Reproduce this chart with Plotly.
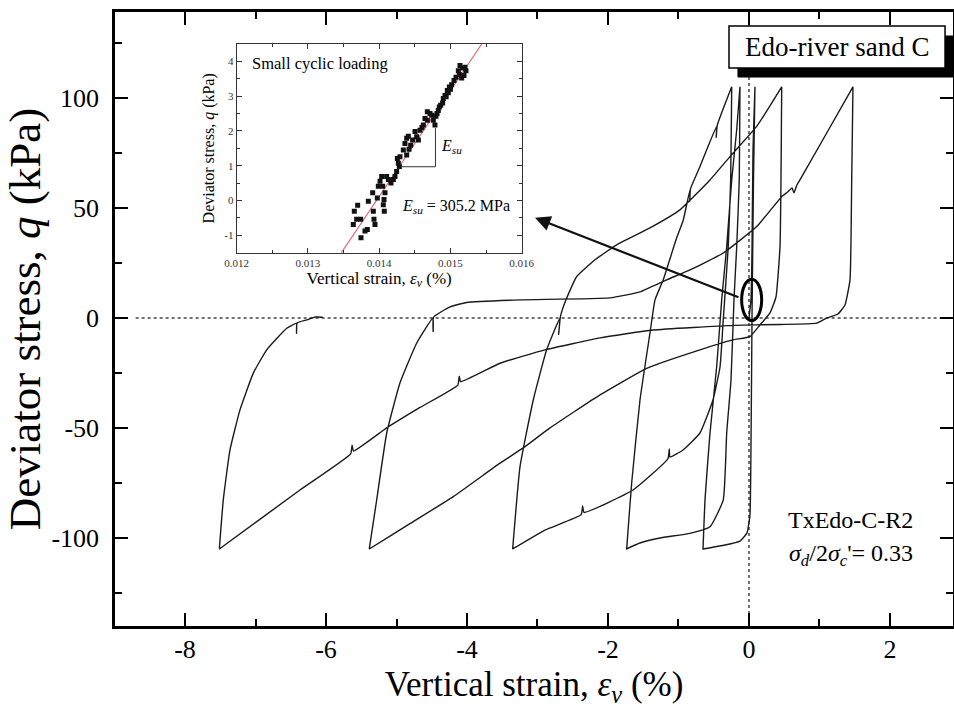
import plotly.graph_objects as go

# ---------------- main hysteresis data (strain %, deviator stress kPa) ----------------
load0_e = [0.0, 0.028, 0.043, 0.057, 0.085]
load0_q = [0.0, 8.2, 30.9, 76.4, 105]

unload1_e = [0.085, 0.064, 0.043, 0.028, 0.014, -0.028, -0.128, -0.34, -0.652]
unload1_q = [105, 62.7, 0.0, -60, -89.5, -97.7, -101.4, -103.2, -105]

reload1_e = [-0.652, -0.624, -0.553, -0.458, -0.387, -0.316, -0.245, -0.174, -0.128]
reload1_q = [-105, -82.7, -52.3, -22.1, 8.2, 32.4, 62.7, 85.5, 105]

unload2_e = [-0.128, -0.138, -0.174, -0.213, -0.255, -0.316, -0.365, -0.553, -0.837, -1.262, -1.546, -1.735]
unload2_q = [105, 62.7, 32.4, 8.2, -28.2, -52.3, -82.7, -94.9, -97.9, -100, -102.3, -105]

reload2_e = [-1.735, -1.664, -1.546, -1.404, -1.333, -1.216, -1.035, -0.932, -0.837, -0.84, -0.83,
             -0.695, -0.46, -0.465, -0.45, -0.245]
reload2_q = [-105, -75, -37.3, -6.8, 8.2, 17.3, 35.5, 44.5, 58.2, 53, 58.6, 68.8, 87, 82, 87.5, 105]

unload3_e = [-0.245, -0.26, -0.294, -0.365, -0.411, -0.511, -0.695, -0.936, -1.121, -1.13, -1.15,
             -1.645, -2.34, -2.36, -2.38, -2.894, -3.352]
unload3_q = [105, 62.7, 32.4, -0.9, -22.3, -37.3, -52.3, -60, -63.2, -59.5, -64, -78.2, -88.4, -85.5, -89.4,
             -96.4, -105]

reload3_e = [-3.352, -3.248, -3.06, -2.87, -2.681, -2.70, -2.675, -2.596, -2.444, -2.184, -1.877, -1.404,
             -0.979, -0.553, -0.27, 0.109, 0.464]
reload3_q = [-105, -67.6, -37.3, -14.5, 0, -7.5, 0.5, 8.2, 18.8, 26.4, 33.2, 40.9, 49.1, 62.7, 73.3, 87, 105]

unload4_e = [0.464, 0.454, 0.44, 0.383, 0.298, 0.156, 0.014, -0.227, -0.695, -1.451, -2.113, -2.823,
             -3.177, -3.532, -4.194, -4.809, -5.386]
unload4_q = [105, 62.7, 32.3, 9.5, 2.3, -3.2, -8.5, -10, -14.5, -22.9, -35, -50, -58.5, -66, -81.2, -93.5, -105]

reload4_e = [-5.386, -5.281, -5.139, -4.95, -4.713, -4.482, -4.48, -4.475, -4.241, -4.004, -3.248, -1.972,
             -1.546, -1.167, -0.837, -0.365, 0.109, 0.464, 0.553, 0.61, 0.638, 0.681, 0.723, 1.475]
reload4_q = [-105, -82.7, -52.3, -29.5, -11.4, 0, -6.2, 0.3, 5, 7, 8.2, 9.1, 11.8, 17.3, 21.8, 29.5, 41.5,
             55.1, 57.3, 59.1, 56.8, 60.5, 62.7, 105]

unload5_e = [1.475, 1.457, 1.433, 1.362, 1.262, 1.102, 0.96, 0.44, -0.227, -1.362, -2.113, -2.894, -3.532,
             -4.09, -4.11, -4.13, -4.667, -5.139, -5.61, -5.63, -5.65, -6.369, -7.513]
unload5_q = [105, 62.7, 17.3, 5.9, 1.8, -0.1, -2.4, -3, -3.4, -5.5, -9.1, -14.5, -20.6, -29, -26.5, -30.5,
             -40.7, -50, -60.5, -57.8, -61.8, -78.2, -105]

reload5_e = [-7.513, -7.457, -7.362, -7.22, -7.031, -6.841, -6.557, -6.42, -6.418, -6.41, -6.274, -6.15, -6.047]
reload5_q = [-105, -82.7, -60, -41.8, -25.1, -14.5, -4.7, -2.5, -7.0, -2.3, -0.9, 0.4, 0.3]

branches_e = [load0_e, unload1_e, reload1_e, unload2_e, reload2_e, unload3_e, reload3_e,
              unload4_e, reload4_e, unload5_e, reload5_e]
branches_q = [load0_q, unload1_q, reload1_q, unload2_q, reload2_q, unload3_q, reload3_q,
              unload4_q, reload4_q, unload5_q, reload5_q]

# ---------------- inset: small cyclic loading ----------------
small_e = [0.013637, 0.013651, 0.013698, 0.013684, 0.013740, 0.013745, 0.013801, 0.013834, 0.013848,
           0.013909, 0.013918, 0.013927, 0.013941, 0.013974, 0.013988, 0.014012, 0.014035, 0.014049,
           0.014068, 0.014082, 0.014058, 0.014072, 0.014105, 0.014129, 0.014166, 0.014199, 0.014245,
           0.014269, 0.014292, 0.014255, 0.014283, 0.014339, 0.014362, 0.014386, 0.014409, 0.014386,
           0.014419, 0.014442, 0.014470, 0.014503, 0.014573, 0.014620, 0.014643, 0.014676, 0.014713,
           0.014760, 0.014783, 0.014797, 0.014830, 0.014863, 0.014900, 0.014924, 0.014956, 0.014985,
           0.015017, 0.015050, 0.015078, 0.015111, 0.015134, 0.015172, 0.015204, 0.015125, 0.015158,
           0.015190, 0.015218, 0.014676, 0.014737, 0.014844, 0.014526, 0.014550, 0.014222, 0.014890,
           0.014940, 0.014970, 0.015000, 0.014812, 0.014600]
small_q = [-0.69, -0.31, -0.14, -0.54, -0.54, -1.07, -0.88, -0.83, -0.02,
           0.22, -0.31, -0.54, -0.69, 0.07, 0.41, 0.55, 0.69, 0.41,
           0.03, 0.22, -0.12, -0.31, 0.69, 0.60, 0.50, 0.60, 0.83,
           1.07, 1.26, 1.21, 0.98, 1.45, 1.64, 1.79, 1.85, 1.31,
           1.47, 1.59, 1.74, 1.98, 2.02, 2.17, 2.36, 2.31, 2.50,
           2.31, 2.17, 2.42, 2.59, 2.74, 2.93, 3.02, 3.16, 3.26,
           3.33, 3.45, 3.54, 3.73, 3.88, 3.81, 3.83, 3.62, 3.52,
           3.59, 3.73, 2.55, 2.45, 2.69, 1.83, 1.74, 0.69, 2.80,
           2.98, 3.10, 3.20, 2.50, 2.10]

fit_e = [0.01347, 0.01544]
fit_q = [-1.5, 4.5]

tri_e = [0.01432, 0.01479, 0.01479]
tri_q = [0.97, 0.97, 2.08]

x_ticks = [-8, -6, -4, -2, 0, 2]
x_labels = ["-8", "-6", "-4", "-2", "0", "2"]
y_ticks = [-100, -50, 0, 50, 100]
y_labels = ["-100", "-50", "0", "50", "100"]
ix_ticks = [0.012, 0.013, 0.014, 0.015, 0.016]
ix_labels = ["0.012", "0.013", "0.014", "0.015", "0.016"]
iy_ticks = [-1, 0, 1, 2, 3, 4]
iy_labels = ["-1", "0", "1", "2", "3", "4"]

FONT = "Liberation Serif, Times New Roman, serif"

all_e, all_q = [], []
for be, bq in zip(branches_e, branches_q):
    all_e += be
    all_q += bq

fig = go.Figure()
fig.add_trace(go.Scatter(x=all_e, y=all_q, mode="lines",
                         line=dict(color="#1a1a1a", width=1.4, shape="spline", smoothing=0.4),
                         showlegend=False, hoverinfo="skip"))

# inset traces
fig.add_trace(go.Scatter(x=fit_e, y=fit_q, mode="lines", line=dict(color="#e0707a", width=1.2),
                         xaxis="x2", yaxis="y2", showlegend=False, hoverinfo="skip"))
fig.add_trace(go.Scatter(x=small_e, y=small_q, mode="markers",
                         marker=dict(color="#111111", size=5, symbol="square"),
                         xaxis="x2", yaxis="y2", showlegend=False, hoverinfo="skip"))
fig.add_trace(go.Scatter(x=tri_e, y=tri_q, mode="lines", line=dict(color="#333333", width=1),
                         xaxis="x2", yaxis="y2", showlegend=False, hoverinfo="skip"))

axis_common = dict(showline=True, linecolor="black", mirror="allticks", showgrid=False, zeroline=False,
                   ticks="inside", automargin=False)

fig.update_layout(
    width=954, height=717, autosize=False, showlegend=False,
    margin=dict(l=115, r=1, t=12, b=91, pad=0),
    paper_bgcolor="white", plot_bgcolor="white",
    font=dict(family=FONT, color="black"),
    xaxis=dict(range=[-8.993, 2.894], tickvals=x_ticks, ticktext=x_labels, linewidth=2.5,
               ticklen=13, tickwidth=2, tickcolor="black",
               minor=dict(ticks="inside", dtick=1, ticklen=7, tickwidth=2, tickcolor="black"),
               tickfont=dict(size=26), ticklabelstandoff=-2,
               title=dict(text="Vertical strain, <i>ε<sub>v</sub></i> (%)", font=dict(size=35), standoff=9),
               **axis_common),
    yaxis=dict(range=[-140, 139], tickvals=y_ticks, ticktext=y_labels, linewidth=2.5,
               ticklen=13, tickwidth=2, tickcolor="black",
               minor=dict(ticks="inside", dtick=25, ticklen=7, tickwidth=2, tickcolor="black"),
               tickfont=dict(size=26), ticklabelstandoff=8,
               title=dict(text="Deviator stress, <i>q</i> (kPa)", font=dict(size=45), standoff=2),
               **axis_common),
    xaxis2=dict(domain=[0.1452, 0.4853], anchor="y2", range=[0.012, 0.016], tickvals=ix_ticks,
                ticktext=ix_labels, linewidth=1, ticklen=5, tickwidth=1, tickcolor="#333",
                minor=dict(ticks="inside", dtick=0.0005, ticklen=3, tickwidth=1, tickcolor="#333"),
                tickfont=dict(size=11, color="#333"),
                title=dict(text="Vertical strain, <i>ε<sub>v</sub></i> (%)", font=dict(size=17), standoff=3),
                linecolor="#333", showline=True, mirror="allticks", showgrid=False, zeroline=False,
                ticks="inside", automargin=False),
    yaxis2=dict(domain=[0.608, 0.948], anchor="x2", range=[-1.5, 4.5], tickvals=iy_ticks,
                ticktext=iy_labels, linewidth=1, ticklen=5, tickwidth=1, tickcolor="#333",
                minor=dict(ticks="inside", dtick=0.5, ticklen=3, tickwidth=1, tickcolor="#333"),
                tickfont=dict(size=11, color="#333"),
                title=dict(text="Deviator stress, <i>q</i> (kPa)", font=dict(size=16), standoff=5),
                linecolor="#333", showline=True, mirror="allticks", showgrid=False, zeroline=False,
                ticks="inside", automargin=False),
)

# reference dotted lines through the origin
fig.add_shape(type="line", xref="x", yref="y", x0=-8.7, x1=2.894, y0=0, y1=0,
              line=dict(color="#444", width=1.5, dash="dot"), layer="below")
fig.add_shape(type="line", xref="x", yref="y", x0=0, x1=0, y0=-140, y1=139,
              line=dict(color="#444", width=1.5, dash="dot"), layer="below")

# ellipse marking small cyclic loading
fig.add_shape(type="circle", xref="x", yref="y", x0=-0.104, x1=0.18, y0=-1.2, y1=17.6,
              line=dict(color="black", width=3))

# arrow from ellipse to inset
fig.add_annotation(x=-3.035, y=45.5, ax=-0.128, ay=9.1, xref="x", yref="y", axref="x", ayref="y",
                   text="", showarrow=True, arrowhead=2, arrowsize=1.4, arrowwidth=2.2, arrowcolor="#111")

# Edo-river sand C label with shadow
fig.add_shape(type="rect", xref="paper", yref="paper", x0=0.7434, x1=1.002, y0=0.8941, y1=0.9609,
              fillcolor="black", line=dict(color="black", width=1))
fig.add_shape(type="rect", xref="paper", yref="paper", x0=0.7327, x1=0.9905, y0=0.9088, y1=0.9772,
              fillcolor="white", line=dict(color="black", width=1.5))
fig.add_annotation(x=0.8616, y=0.943, xref="paper", yref="paper", text="Edo-river sand C",
                   xanchor="center", yanchor="middle", showarrow=False, font=dict(size=27))

fig.add_annotation(x=0.878, y=0.1726, xref="paper", yref="paper", text="TxEdo-C-R2",
                   xanchor="center", yanchor="middle", showarrow=False, font=dict(size=24))
fig.add_annotation(x=0.878, y=0.1156, xref="paper", yref="paper",
                   text="<i>σ<sub>d</sub></i>/2<i>σ<sub>c</sub></i>'= 0.33",
                   xanchor="center", yanchor="middle", showarrow=False, font=dict(size=24))

# inset labels
fig.add_annotation(x=0.01219, y=3.93, xref="x2", yref="y2", text="Small cyclic loading", xanchor="left",
                   yanchor="middle", showarrow=False, font=dict(size=16.5))
fig.add_annotation(x=0.01484, y=1.55, xref="x2", yref="y2", text="<i>E<sub>su</sub></i>", xanchor="left",
                   yanchor="middle", showarrow=False, font=dict(size=16))
fig.add_annotation(x=0.01429, y=-0.17, xref="x2", yref="y2", text="<i>E<sub>su</sub></i> = 305.2 MPa",
                   xanchor="left", yanchor="middle", showarrow=False, font=dict(size=16))

fig.write_html("out.html")
